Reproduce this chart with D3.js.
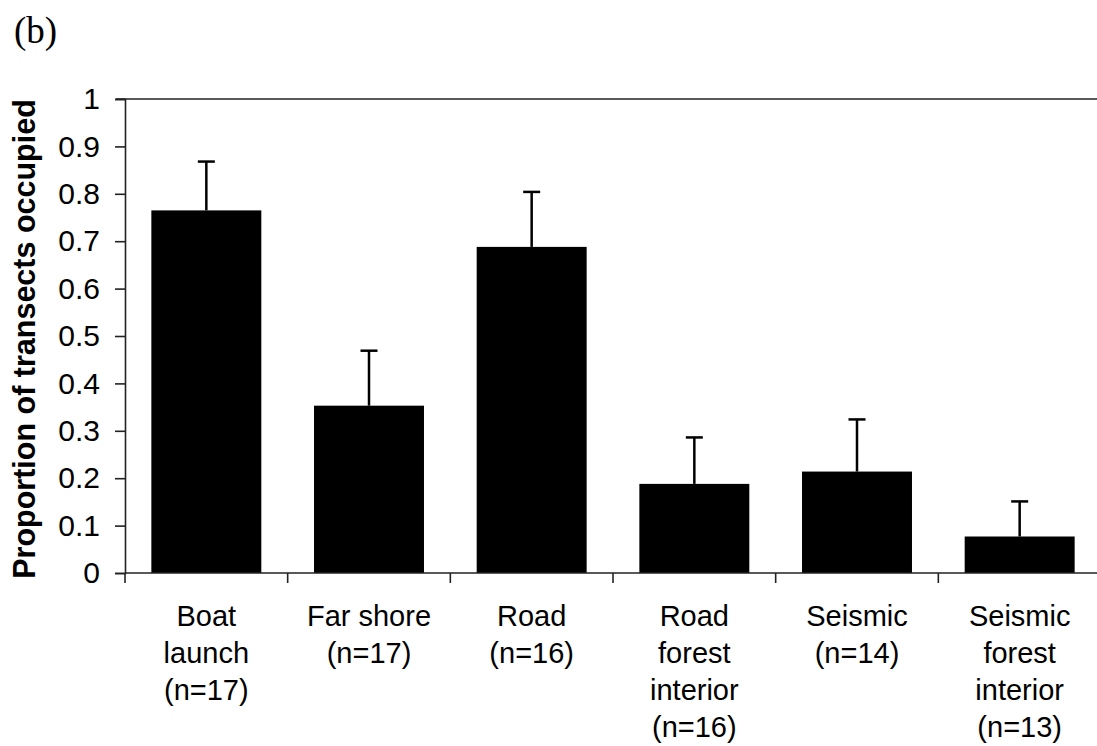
<!DOCTYPE html>
<html>
<head>
<meta charset="utf-8">
<script src="https://cdn.jsdelivr.net/npm/d3@7"></script>
<style>
  html, body { margin: 0; padding: 0; background: #fff; }
  svg { display: block; }
</style>
</head>
<body>
<svg id="chart" width="1097" height="746"></svg>
<script>
// Habitat categories, each label split into display lines
const categories = ["Boat launch", "Far shore", "Road", "Road forest interior", "Seismic", "Seismic forest interior"];
const labelLines = [
  ["Boat", "launch", "(n=17)"],
  ["Far shore", "(n=17)"],
  ["Road", "(n=16)"],
  ["Road", "forest", "interior", "(n=16)"],
  ["Seismic", "(n=14)"],
  ["Seismic", "forest", "interior", "(n=13)"]
];
// Proportion of transects occupied and its standard error
const proportions = [0.765, 0.353, 0.688, 0.188, 0.214, 0.077];
const stdErrors   = [0.103, 0.116, 0.116, 0.098, 0.110, 0.074];
const yTicks = [0, 0.1, 0.2, 0.3, 0.4, 0.5, 0.6, 0.7, 0.8, 0.9, 1];

const svg = d3.select("#chart");
const plotLeft = 125, plotRight = 1101, plotTop = 99, plotBottom = 573;

const x = d3.scaleBand()
  .domain(categories)
  .range([plotLeft, plotRight])
  .paddingInner(0.324)
  .paddingOuter(0.162);

const y = d3.scaleLinear().domain([0, 1]).range([plotBottom, plotTop]);

const axisColor = "#222";
const font = "Arial, 'Liberation Sans', sans-serif";

// panel letter
svg.append("text")
  .attr("x", 14).attr("y", 43)
  .attr("font-family", "'Liberation Serif', 'Times New Roman', serif")
  .attr("font-size", 37)
  .text("(b)");

// top frame line
svg.append("line")
  .attr("x1", plotLeft - 9).attr("x2", plotRight)
  .attr("y1", y(1)).attr("y2", y(1))
  .attr("stroke", axisColor).attr("stroke-width", 1.6);

// bars
svg.append("g").selectAll("rect")
  .data(categories)
  .join("rect")
  .attr("x", d => x(d))
  .attr("width", x.bandwidth())
  .attr("y", (d, i) => y(proportions[i]))
  .attr("height", (d, i) => y(0) - y(proportions[i]))
  .attr("fill", "#000");

// error bars (upper side only)
const err = svg.append("g").attr("stroke", "#000").attr("stroke-width", 2.5);
categories.forEach((c, i) => {
  const cx = x(c) + x.bandwidth() / 2;
  const yTop = y(proportions[i] + stdErrors[i]);
  err.append("line")
    .attr("x1", cx).attr("x2", cx)
    .attr("y1", y(proportions[i])).attr("y2", yTop);
  err.append("line")
    .attr("x1", cx - 8.5).attr("x2", cx + 8.5)
    .attr("y1", yTop).attr("y2", yTop);
});

// y axis
const yAxis = svg.append("g")
  .attr("transform", `translate(${plotLeft},0)`)
  .call(d3.axisLeft(y).tickValues(yTicks).tickSize(10).tickPadding(15)
    .tickFormat(d => d === 0 || d === 1 ? d3.format("d")(d) : d3.format(".1f")(d)));
yAxis.select(".domain").attr("stroke", axisColor).attr("stroke-width", 1.6);
yAxis.selectAll(".tick line").attr("stroke", axisColor).attr("stroke-width", 1.6);
yAxis.selectAll(".tick text")
  .attr("font-family", font).attr("font-size", 30).attr("fill", "#000");

// x baseline with category boundary ticks
svg.append("line")
  .attr("x1", plotLeft).attr("x2", plotRight)
  .attr("y1", plotBottom).attr("y2", plotBottom)
  .attr("stroke", axisColor).attr("stroke-width", 1.6);
const step = x.step();
const boundaries = d3.range(categories.length + 1).map(k => plotLeft + k * step);
svg.append("g").selectAll("line")
  .data(boundaries)
  .join("line")
  .attr("x1", d => d).attr("x2", d => d)
  .attr("y1", plotBottom).attr("y2", plotBottom + 10)
  .attr("stroke", axisColor).attr("stroke-width", 1.6);

// category labels
const labels = svg.append("g")
  .attr("font-family", font).attr("font-size", 29)
  .attr("text-anchor", "middle").attr("fill", "#000");
categories.forEach((c, i) => {
  const cx = x(c) + x.bandwidth() / 2;
  const t = labels.append("text").attr("x", cx).attr("y", 626);
  labelLines[i].forEach((line, k) => {
    t.append("tspan")
      .attr("x", cx)
      .attr("y", 626 + k * 37)
      .text(line);
  });
});

// y axis title
svg.append("text")
  .attr("transform", `translate(35,${(plotTop + plotBottom) / 2 + 3}) rotate(-90)`)
  .attr("text-anchor", "middle")
  .attr("font-family", font).attr("font-weight", "bold").attr("font-size", 30.5)
  .text("Proportion of transects occupied");
</script>
</body>
</html>
